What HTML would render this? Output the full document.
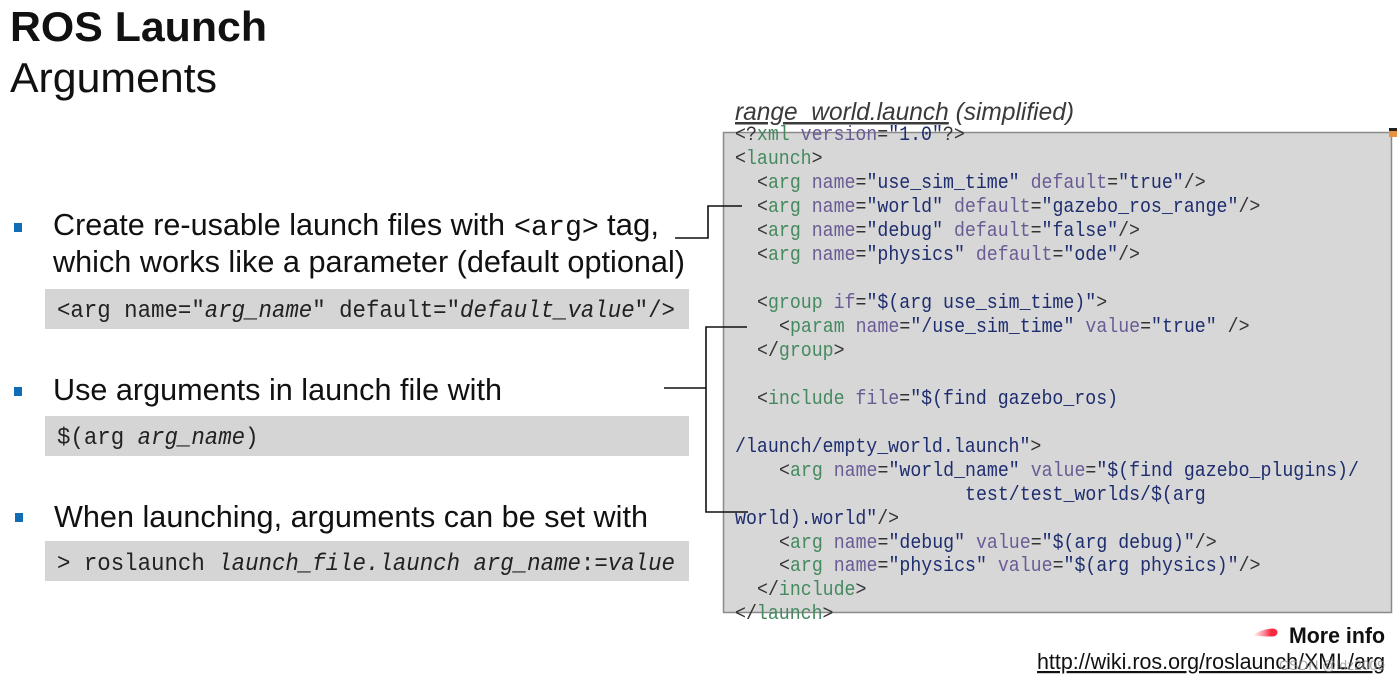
<!DOCTYPE html>
<html><head><meta charset="utf-8"><style>
html,body{margin:0;padding:0;background:#fff;width:1397px;height:683px;overflow:hidden}
svg{display:block}
.s{font-family:"Liberation Sans",sans-serif;fill:#111}
.m{font-family:"Liberation Mono",monospace;font-size:20px;fill:#333;white-space:pre}
.c{font-family:"Liberation Mono",monospace;font-size:24.4px;fill:#222;white-space:pre}
.g{fill:#458a5f}.p{fill:#6b5b95}.n{fill:#1e2d6e}
</style></head><body>
<svg width="1397" height="683" viewBox="0 0 1397 683" xmlns="http://www.w3.org/2000/svg">
<defs><linearGradient id="r" x1="0" x2="1"><stop offset="0" stop-color="#ff6a78" stop-opacity="0"/><stop offset=".75" stop-color="#f8283f"/></linearGradient></defs>
<text class="s" x="10" y="41" font-size="42" font-weight="bold" textLength="257" lengthAdjust="spacingAndGlyphs">ROS Launch</text>
<text class="s" x="10" y="92" font-size="42" textLength="207" lengthAdjust="spacingAndGlyphs">Arguments</text>

<rect x="14" y="223" width="8" height="9" fill="#0f6cb5"/>
<rect x="14" y="387" width="8" height="9" fill="#0f6cb5"/>
<rect x="15" y="513" width="8" height="9" fill="#0f6cb5"/>

<text class="s" x="53" y="235" font-size="31" textLength="452" lengthAdjust="spacingAndGlyphs">Create re-usable launch files with</text>
<text class="s" x="514" y="235" font-size="28.3" style="font-family:'Liberation Mono',monospace">&lt;arg&gt;</text>
<text class="s" x="607" y="235" font-size="31" textLength="52" lengthAdjust="spacingAndGlyphs">tag,</text>
<text class="s" x="53" y="272" font-size="31" textLength="632" lengthAdjust="spacingAndGlyphs">which works like a parameter (default optional)</text>
<text class="s" x="53" y="400" font-size="31" textLength="449" lengthAdjust="spacingAndGlyphs">Use arguments in launch file with</text>
<text class="s" x="54" y="527" font-size="31" textLength="594" lengthAdjust="spacingAndGlyphs">When launching, arguments can be set with</text>

<rect x="45" y="289" width="644" height="40" fill="#d5d5d5"/>
<rect x="45" y="416" width="644" height="40" fill="#d5d5d5"/>
<rect x="45" y="541" width="644" height="40" fill="#d5d5d5"/>
<text class="c" transform="translate(57 317) scale(.918 1)" xml:space="preserve">&lt;arg name="<tspan font-style="italic">arg_name</tspan>" default="<tspan font-style="italic">default_value</tspan>"/&gt;</text>
<text class="c" transform="translate(57 444) scale(.918 1)" xml:space="preserve">$(arg <tspan font-style="italic">arg_name</tspan>)</text>
<text class="c" transform="translate(57 570) scale(.918 1)" xml:space="preserve">&gt; roslaunch <tspan font-style="italic">launch_file.launch arg_name</tspan>:=<tspan font-style="italic">value</tspan></text>

<text class="s" x="735" y="120" font-size="25" font-style="italic" style="fill:#3a3a3a" textLength="339" lengthAdjust="spacingAndGlyphs" xml:space="preserve"><tspan text-decoration="underline">range_world.launch</tspan> (simplified)</text>

<rect x="723.5" y="132.5" width="668" height="480" fill="#d7d7d7" stroke="#8a8a8a" stroke-width="1.5"/>
<rect x="1389" y="128" width="8" height="3" fill="#222"/>
<rect x="1389" y="131" width="8" height="6" fill="#e8913f"/>

<path d="M675 238H708V206H742" fill="none" stroke="#111" stroke-width="1.6"/>
<path d="M664 388H706M747 327H706V512H748" fill="none" stroke="#111" stroke-width="1.6"/>

<g xml:space="preserve">
<text class="m" transform="translate(735 140) scale(.9125 1)">&lt;?<tspan class="g">xml</tspan> <tspan class="p">version</tspan>=<tspan class="n">"1.0"</tspan>?&gt;</text>
<text class="m" transform="translate(735 164) scale(.9125 1)">&lt;<tspan class="g">launch</tspan>&gt;</text>
<text class="m" transform="translate(757 188) scale(.9125 1)">&lt;<tspan class="g">arg</tspan> <tspan class="p">name</tspan>=<tspan class="n">"use_sim_time"</tspan> <tspan class="p">default</tspan>=<tspan class="n">"true"</tspan>/&gt;</text>
<text class="m" transform="translate(757 212) scale(.9125 1)">&lt;<tspan class="g">arg</tspan> <tspan class="p">name</tspan>=<tspan class="n">"world"</tspan> <tspan class="p">default</tspan>=<tspan class="n">"gazebo_ros_range"</tspan>/&gt;</text>
<text class="m" transform="translate(757 236) scale(.9125 1)">&lt;<tspan class="g">arg</tspan> <tspan class="p">name</tspan>=<tspan class="n">"debug"</tspan> <tspan class="p">default</tspan>=<tspan class="n">"false"</tspan>/&gt;</text>
<text class="m" transform="translate(757 260) scale(.9125 1)">&lt;<tspan class="g">arg</tspan> <tspan class="p">name</tspan>=<tspan class="n">"physics"</tspan> <tspan class="p">default</tspan>=<tspan class="n">"ode"</tspan>/&gt;</text>
<text class="m" transform="translate(757 308) scale(.9125 1)">&lt;<tspan class="g">group</tspan> <tspan class="p">if</tspan>=<tspan class="n">"$(arg use_sim_time)"</tspan>&gt;</text>
<text class="m" transform="translate(779 332) scale(.9125 1)">&lt;<tspan class="g">param</tspan> <tspan class="p">name</tspan>=<tspan class="n">"/use_sim_time"</tspan> <tspan class="p">value</tspan>=<tspan class="n">"true"</tspan> /&gt;</text>
<text class="m" transform="translate(757 356) scale(.9125 1)">&lt;/<tspan class="g">group</tspan>&gt;</text>
<text class="m" transform="translate(757 404) scale(.9125 1)">&lt;<tspan class="g">include</tspan> <tspan class="p">file</tspan>=<tspan class="n">"$(find gazebo_ros)</tspan></text>
<text class="m n" transform="translate(735 452) scale(.9125 1)">/launch/empty_world.launch"<tspan style="fill:#333">&gt;</tspan></text>
<text class="m" transform="translate(779 476) scale(.9125 1)">&lt;<tspan class="g">arg</tspan> <tspan class="p">name</tspan>=<tspan class="n">"world_name"</tspan> <tspan class="p">value</tspan>=<tspan class="n">"$(find gazebo_plugins)/</tspan></text>
<text class="m n" transform="translate(965 500) scale(.9125 1)">test/test_worlds/$(arg</text>
<text class="m n" transform="translate(735 524) scale(.9125 1)">world).world"<tspan style="fill:#333">/&gt;</tspan></text>
<text class="m" transform="translate(779 548) scale(.9125 1)">&lt;<tspan class="g">arg</tspan> <tspan class="p">name</tspan>=<tspan class="n">"debug"</tspan> <tspan class="p">value</tspan>=<tspan class="n">"$(arg debug)"</tspan>/&gt;</text>
<text class="m" transform="translate(779 571) scale(.9125 1)">&lt;<tspan class="g">arg</tspan> <tspan class="p">name</tspan>=<tspan class="n">"physics"</tspan> <tspan class="p">value</tspan>=<tspan class="n">"$(arg physics)"</tspan>/&gt;</text>
<text class="m" transform="translate(757 595) scale(.9125 1)">&lt;/<tspan class="g">include</tspan>&gt;</text>
<text class="m" transform="translate(735 619) scale(.9125 1)">&lt;/<tspan class="g">launch</tspan>&gt;</text>
</g>

<path d="M1252 635.5Q1262 629 1273 628.5Q1277.5 629 1277.5 632.5Q1277 636.5 1272 636.5Q1262 636.5 1252 635.5Z" fill="url(#r)"/>
<text class="s" x="1289" y="643" font-size="22" font-weight="bold" textLength="96" lengthAdjust="spacingAndGlyphs">More info</text>
<text class="s" x="1037" y="669" font-size="22" text-decoration="underline" textLength="348" lengthAdjust="spacingAndGlyphs">http://wiki.ros.org/roslaunch/XML/arg</text>
<text class="s" x="1279" y="670" font-size="14" style="fill:#8a8a8a" opacity=".75" textLength="106" lengthAdjust="spacingAndGlyphs">CSDN @ldz2009</text>
</svg>
</body></html>
